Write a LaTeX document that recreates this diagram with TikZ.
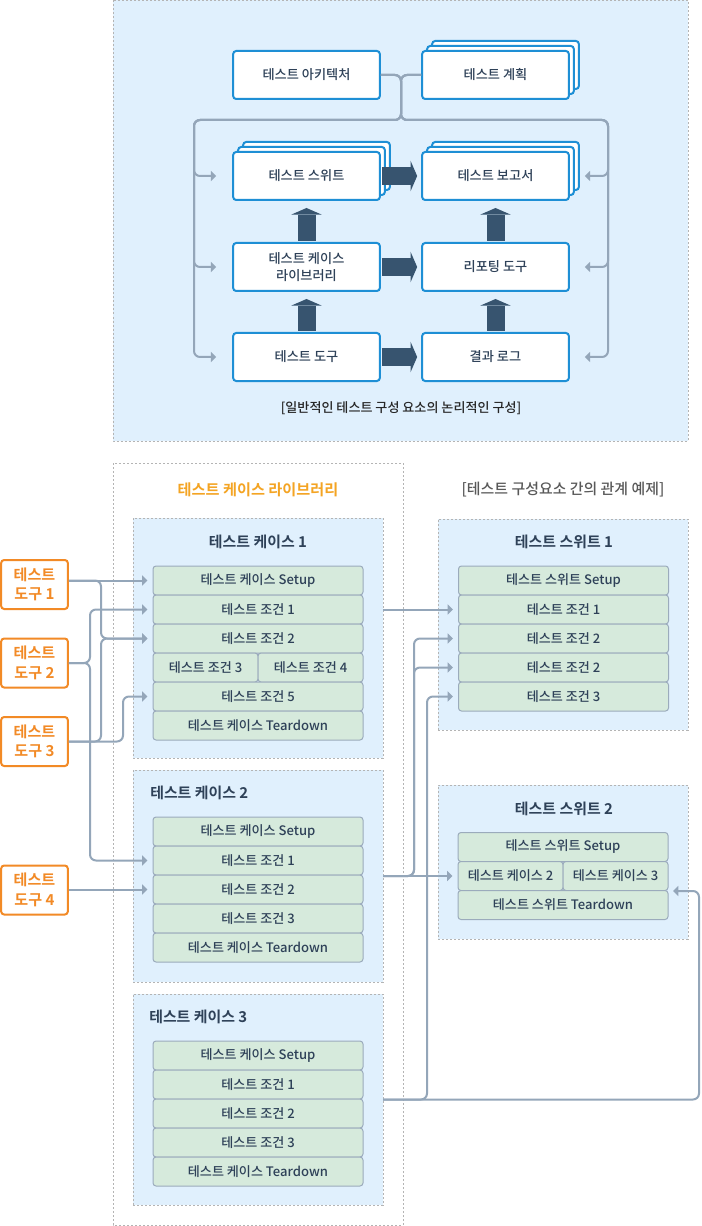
\documentclass[tikz,border=0pt]{standalone}
\usepackage{fontspec}
\setmainfont{Noto Sans CJK KR}[UprightFont=* Medium,BoldFont=* Bold]
\usepackage{xcolor}
\usetikzlibrary{arrows.meta}

\definecolor{boxblue}{HTML}{1E8FD5}
\definecolor{panelblue}{HTML}{E0F0FD}
\definecolor{dotgray}{HTML}{B4B4B4}
\definecolor{wire}{HTML}{94A6B9}
\definecolor{ink}{HTML}{2E4158}
\definecolor{heavy}{HTML}{37546F}
\definecolor{rowgreen}{HTML}{D6EADC}
\definecolor{rowline}{HTML}{9BABBC}
\definecolor{tooltone}{HTML}{F28A26}
\definecolor{amber}{HTML}{F4A423}

\tikzset{
  bigbox/.style={draw=boxblue,line width=1.5pt,fill=white,rounded corners=2.25pt,minimum width=110pt,minimum height=36pt,inner sep=0pt,text=ink,font=\fontsize{9.9}{12.75}\selectfont,align=center},
  panel/.style={draw=dotgray,line width=0.75pt,dash pattern=on 1.5pt off 1.5pt,fill=panelblue,inner sep=0pt,outer sep=0pt},
  rowbox/.style={draw=rowline,line width=0.75pt,fill=rowgreen,rounded corners=2.25pt,minimum width=157.5pt,minimum height=21.75pt,inner sep=0pt,text=ink,font=\fontsize{9.8}{10}\selectfont},
  halfrow/.style={rowbox,minimum width=78.75pt},
  toolbox/.style={draw=tooltone,line width=1.5pt,fill=white,rounded corners=2.25pt,minimum width=50pt,minimum height=36.75pt,inner sep=0pt,text=tooltone,font=\bfseries\fontsize{11.3}{14.5}\selectfont,align=center},
  conn/.style={draw=wire,line width=1.5pt,rounded corners=4.5pt,-{Triangle[length=4pt,width=7.5pt]}},
  heavyarrow/.style={draw=heavy,line width=13.5pt,-{Triangle[length=5pt,width=23pt,line width=0pt]}},
  paneltitle/.style={text=ink,font=\bfseries\fontsize{11.2}{12}\selectfont,inner sep=0pt},
}

\begin{document}
\begin{tikzpicture}[x=0.75pt,y=-0.75pt]
\fill[white] (0,0) rectangle (701,1226);
\useasboundingbox (0,0) rectangle (701,1226);

% logical layout
\draw[panel] (113,0.5) rectangle (688,441);
\node[bigbox] (arch) at (306.5,75) {테스트 아키텍처};
\node[bigbox] (plan3) at (505.5,65) {};
\node[bigbox] (plan2) at (500.5,70) {};
\node[bigbox] (plan) at (495.5,75) {테스트 계획};
\node[bigbox] (tsuite3) at (316.5,166) {};
\node[bigbox] (tsuite2) at (311.5,171) {};
\node[bigbox] (tsuite) at (306.5,176) {테스트 스위트};
\node[bigbox] (report3) at (505.5,166) {};
\node[bigbox] (report2) at (500.5,171) {};
\node[bigbox] (report) at (495.5,176) {테스트 보고서};
\node[bigbox] (caselib) at (306.5,267) {테스트 케이스\\라이브러리};
\node[bigbox] (reptool) at (495.5,267) {리포팅 도구};
\node[bigbox] (tooling) at (306.5,357) {테스트 도구};
\node[bigbox] (resultlog) at (495.5,357) {결과 로그};
\node[text=black!85,font=\fontsize{9.8}{11}\selectfont] (cap1) at (401,408) {[일반적인 테스트 구성 요소의 논리적인 구성]};

\coordinate (hub) at (401,120);
\coordinate (lrail) at (194,120);
\coordinate (rrail) at (608,120);
\draw[conn] (arch.east) -| (hub) -- (lrail) |- ([xshift=-12pt]tsuite.west);
\draw[conn] (arch.east) -| (hub) -- (lrail) |- ([xshift=-12pt]caselib.west);
\draw[conn] (arch.east) -| (hub) -- (lrail) |- ([xshift=-12pt]tooling.west);
\draw[conn] (plan.west) -| (hub) -- (rrail) |- ([xshift=11.25pt]report.east);
\draw[conn] (plan.west) -| (hub) -- (rrail) |- ([xshift=11.25pt]reptool.east);
\draw[conn] (plan.west) -| (hub) -- (rrail) |- ([xshift=11.25pt]resultlog.east);

\draw[heavyarrow] ([xshift=0.75pt]tsuite.east) -- ([xshift=-3pt]report.west);
\draw[heavyarrow] ([xshift=0.75pt]caselib.east) -- ([xshift=-3pt]reptool.west);
\draw[heavyarrow] ([xshift=0.75pt]tooling.east) -- ([xshift=-3pt]resultlog.west);
\draw[heavyarrow] ([yshift=0.75pt]caselib.north) -- ([yshift=-5.25pt]tsuite.south);
\draw[heavyarrow] ([yshift=0.75pt]tooling.north) -- ([yshift=-5.25pt]caselib.south);
\draw[heavyarrow] ([yshift=0.75pt]reptool.north) -- ([yshift=-5.25pt]report.south);
\draw[heavyarrow] ([yshift=0.75pt]resultlog.north) -- ([yshift=-5.25pt]reptool.south);

% test case library
\draw[panel,fill=none] (113,463) rectangle (403,1225);
\node[text=amber,font=\bfseries\fontsize{11.4}{12}\selectfont] (libtitle) at (258,490) {테스트 케이스 라이브러리};
\node[text=black!65,font=\fontsize{11.2}{12}\selectfont] (cap2) at (563,490) {[테스트 구성요소 간의 관계 예제]};

\node[panel,minimum width=187.5pt,minimum height=180pt] (case1) at (258,638) {};
\node[paneltitle] (case1t) at (258,542) {테스트 케이스 1};
\node[rowbox] (c1setup) at (258,580.5) {테스트 케이스 Setup};
\node[rowbox] (c1cond1) at (258,609.5) {테스트 조건 1};
\node[rowbox] (c1cond2) at (258,638.5) {테스트 조건 2};
\node[halfrow] (c1cond3) at (205.5,667.5) {테스트 조건 3};
\node[halfrow] (c1cond4) at (310.5,667.5) {테스트 조건 4};
\node[rowbox] (c1cond5) at (258,696.5) {테스트 조건 5};
\node[rowbox] (c1down) at (258,725.5) {테스트 케이스 Teardown};

\node[panel,minimum width=187.5pt,minimum height=159pt] (case2) at (258,876) {};
\node[paneltitle,anchor=west] (case2t) at (150,793) {테스트 케이스 2};
\node[rowbox] (c2setup) at (258,831.5) {테스트 케이스 Setup};
\node[rowbox] (c2cond1) at (258,860.5) {테스트 조건 1};
\node[rowbox] (c2cond2) at (258,889.5) {테스트 조건 2};
\node[rowbox] (c2cond3) at (258,918.5) {테스트 조건 3};
\node[rowbox] (c2down) at (258,947.5) {테스트 케이스 Teardown};

\node[panel,minimum width=187.5pt,minimum height=158.25pt] (case3) at (258,1099.5) {};
\node[paneltitle,anchor=west] (case3t) at (149,1017) {테스트 케이스 3};
\node[rowbox] (c3setup) at (258,1055.5) {테스트 케이스 Setup};
\node[rowbox] (c3cond1) at (258,1084.5) {테스트 조건 1};
\node[rowbox] (c3cond2) at (258,1113.5) {테스트 조건 2};
\node[rowbox] (c3cond3) at (258,1142.5) {테스트 조건 3};
\node[rowbox] (c3down) at (258,1171.5) {테스트 케이스 Teardown};

% suites
\node[panel,minimum width=187.5pt,minimum height=158.25pt] (suite1) at (563,624.5) {};
\node[paneltitle] (suite1t) at (564,542) {테스트 스위트 1};
\node[rowbox] (s1setup) at (563.5,580.5) {테스트 스위트 Setup};
\node[rowbox] (s1cond1) at (563.5,609.5) {테스트 조건 1};
\node[rowbox] (s1cond2) at (563.5,638.5) {테스트 조건 2};
\node[rowbox] (s1cond2b) at (563.5,667.5) {테스트 조건 2};
\node[rowbox] (s1cond3) at (563.5,696.5) {테스트 조건 3};

\node[panel,minimum width=187.5pt,minimum height=115.5pt] (suite2) at (563,862) {};
\node[paneltitle] (suite2t) at (564,809) {테스트 스위트 2};
\node[rowbox] (s2setup) at (563,847) {테스트 스위트 Setup};
\node[halfrow] (s2case2) at (510.5,876) {테스트 케이스 2};
\node[halfrow] (s2case3) at (615.5,876) {테스트 케이스 3};
\node[rowbox] (s2down) at (563,905) {테스트 스위트 Teardown};

% tools
\node[toolbox] (tool1) at (34.5,584.5) {테스트\\도구 1};
\node[toolbox] (tool2) at (34.5,663) {테스트\\도구 2};
\node[toolbox] (tool3) at (34.5,741.5) {테스트\\도구 3};
\node[toolbox] (tool4) at (34.5,890) {테스트\\도구 4};

\coordinate (ja) at (101,0);
\coordinate (jb) at (123,0);
\coordinate (jc) at (90,0);
\draw[conn] (c1setup -| tool1.east) -- ([xshift=-3.75pt]c1setup.west);
\draw[conn] (c1setup -| tool1.east) -| (ja |- c1cond2) -- ([xshift=-3.75pt]c1cond2.west);
\draw[conn] (tool3.east) -| (ja |- c1cond2) -- ([xshift=-3.75pt]c1cond2.west);
\draw[conn] (tool3.east) -| (jb |- c1cond5) -- ([xshift=-3.75pt]c1cond5.west);
\draw[conn] (tool2.east) -| (jc |- c1cond1) -- ([xshift=-3.75pt]c1cond1.west);
\draw[conn] (tool2.east) -| (jc |- c2cond1) -- ([xshift=-3.75pt]c2cond1.west);
\draw[conn] (c2cond2 -| tool4.east) -- ([xshift=-3.75pt]c2cond2.west);

\coordinate (jd) at (414,0);
\coordinate (je) at (427,0);
\coordinate (jf) at (699,0);
\coordinate (s2in) at (673,891);
\draw[conn] (case1.east |- s1cond1) -- ([xshift=-3.75pt]s1cond1.west);
\draw[conn] (case2.east) -| (jd |- s1cond2) -- ([xshift=-3.75pt]s1cond2.west);
\draw[conn] (case2.east) -| (jd |- s1cond2b) -- ([xshift=-3.75pt]s1cond2b.west);
\draw[conn] (case2.east) -- ([xshift=-3.75pt]s2case2.west);
\draw[conn] (case3.east) -| (je |- s1cond3) -- ([xshift=-3.75pt]s1cond3.west);
\draw[conn] (case3.east) -| (jf |- s2in) -- (s2in);
\end{tikzpicture}
\end{document}
